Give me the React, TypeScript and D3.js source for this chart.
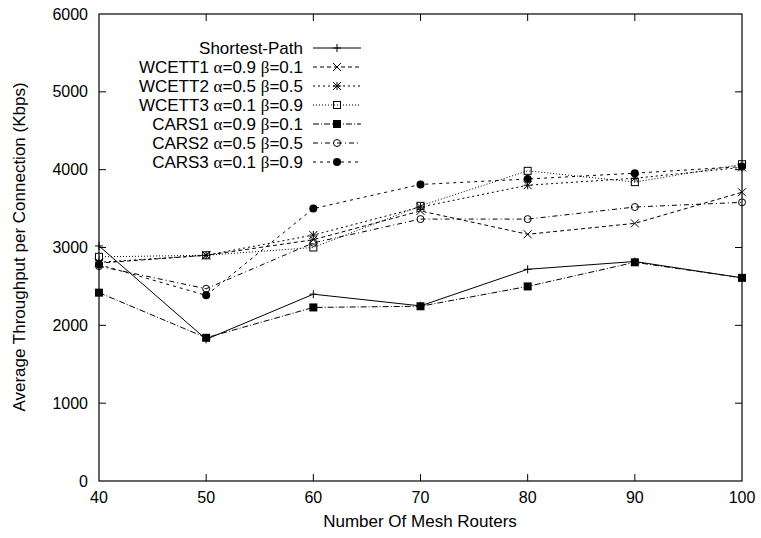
import React from "react";
import * as d3 from "d3";

const routers = [40, 50, 60, 70, 80, 90, 100];
const shortestPath = [3020, 1820, 2400, 2250, 2720, 2820, 2610];
const wcett1 = [2800, 2900, 3100, 3470, 3170, 3310, 3710];
const wcett2 = [2810, 2900, 3160, 3520, 3800, 3890, 4030];
const wcett3 = [2880, 2900, 3000, 3535, 3985, 3840, 4070];
const cars1 = [2420, 1840, 2230, 2245, 2500, 2810, 2610];
const cars2 = [2760, 2470, 3060, 3365, 3365, 3520, 3580];
const cars3 = [2780, 2385, 3500, 3810, 3880, 3955, 4040];
const seriesNames = [
  "Shortest-Path",
  "WCETT1 α=0.9 β=0.1",
  "WCETT2 α=0.5 β=0.5",
  "WCETT3 α=0.1 β=0.9",
  "CARS1 α=0.9 β=0.1",
  "CARS2 α=0.5 β=0.5",
  "CARS3 α=0.1 β=0.9",
];
const yTicks = [0, 1000, 2000, 3000, 4000, 5000, 6000];
const xTicks = [40, 50, 60, 70, 80, 90, 100];

const seriesValues = [shortestPath, wcett1, wcett2, wcett3, cars1, cars2, cars3];
const dashes = ["", "4,3", "2,3", "1,2", "6,2,1,2", "5,3,1,3", "3,4"];
const markers = ["plus", "cross", "star", "square", "fsquare", "circle", "fcircle"];

const W = 761, H = 538;
const L = 99, R = 742, T = 14, B = 481;
const FONT = "'Liberation Sans', Arial, Helvetica, sans-serif";
const GREEK = "'Liberation Serif', 'DejaVu Serif', serif";

function Marker({ kind, x, y }: { kind: string; x: number; y: number }) {
  const s = 4;
  switch (kind) {
    case "plus":
      return <path d={`M${x - s},${y}H${x + s}M${x},${y - s}V${y + s}`} stroke="#000" strokeWidth={1} />;
    case "cross":
      return <path d={`M${x - s},${y - s}L${x + s},${y + s}M${x - s},${y + s}L${x + s},${y - s}`} stroke="#000" strokeWidth={1} />;
    case "star":
      return (
        <path
          d={`M${x - s},${y}H${x + s}M${x},${y - s}V${y + s}M${x - s},${y - s}L${x + s},${y + s}M${x - s},${y + s}L${x + s},${y - s}`}
          stroke="#000"
          strokeWidth={1}
        />
      );
    case "square":
      return <rect x={x - 3.5} y={y - 3.5} width={7} height={7} fill="none" stroke="#000" strokeWidth={1} />;
    case "fsquare":
      return <rect x={x - 4} y={y - 4} width={8} height={8} fill="#000" />;
    case "circle":
      return <circle cx={x} cy={y} r={3.5} fill="none" stroke="#000" strokeWidth={1} />;
    case "fcircle":
      return <circle cx={x} cy={y} r={4} fill="#000" />;
  }
  return null;
}

function LegendLabel({ text }: { text: string }) {
  const parts = text.split(/([αβ])/);
  return (
    <>
      {parts.map((p, i) =>
        p === "α" || p === "β" ? (
          <tspan key={i} fontFamily={GREEK}>
            {p}
          </tspan>
        ) : (
          <tspan key={i}>{p}</tspan>
        )
      )}
    </>
  );
}

export default function App() {
  const x = d3.scaleLinear().domain([40, 100]).range([L, R]);
  const y = d3.scaleLinear().domain([0, 6000]).range([B, T]);
  const line = d3
    .line<number>()
    .x((_, i) => x(routers[i]))
    .y((d) => y(d));

  const legendTextX = 303;
  const legendX1 = 313;
  const legendX2 = 361;
  const legendY0 = 48;
  const legendDy = 19;

  return (
    <svg width={W} height={H} style={{ position: "absolute", left: 0, top: 0, background: "#fff" }} fontFamily={FONT}>
      <rect x={0} y={0} width={W} height={H} fill="#fff" />
      {yTicks.map((t) => (
        <g key={"y" + t}>
          {t > 0 && t < 6000 && (
            <>
              <line x1={L} x2={L + 7} y1={y(t)} y2={y(t)} stroke="#000" />
              <line x1={R} x2={R - 7} y1={y(t)} y2={y(t)} stroke="#000" />
            </>
          )}
          <text x={88} y={y(t)} dy="0.35em" textAnchor="end" fontSize={16}>
            {t}
          </text>
        </g>
      ))}
      {xTicks.map((t) => (
        <g key={"x" + t}>
          {t > 40 && t < 100 && (
            <>
              <line x1={x(t)} x2={x(t)} y1={B} y2={B - 7} stroke="#000" />
              <line x1={x(t)} x2={x(t)} y1={T} y2={T + 7} stroke="#000" />
            </>
          )}
          <text x={x(t)} y={503} textAnchor="middle" fontSize={16}>
            {t}
          </text>
        </g>
      ))}
      {seriesValues.map((vals, si) => (
        <g key={"s" + si}>
          <path d={line(vals) || ""} fill="none" stroke="#000" strokeWidth={1} strokeDasharray={dashes[si]} />
          {vals.map((v, i) => (
            <Marker key={i} kind={markers[si]} x={x(routers[i])} y={y(v)} />
          ))}
        </g>
      ))}
      {seriesNames.map((name, si) => {
        const ly = legendY0 + si * legendDy;
        return (
          <g key={"l" + si}>
            <text x={legendTextX} y={ly} dy="0.35em" textAnchor="end" fontSize={17}>
              <LegendLabel text={name} />
            </text>
            <line x1={legendX1} x2={legendX2} y1={ly} y2={ly} stroke="#000" strokeDasharray={dashes[si]} />
            <Marker kind={markers[si]} x={(legendX1 + legendX2) / 2} y={ly} />
          </g>
        );
      })}
      <rect x={L} y={T} width={R - L} height={B - T} fill="none" stroke="#000" strokeWidth={1.2} />
      <text x={420} y={527} textAnchor="middle" fontSize={17}>
        Number Of Mesh Routers
      </text>
      <text transform={`translate(25,247) rotate(-90)`} textAnchor="middle" fontSize={17}>
        Average Throughput per Connection (Kbps)
      </text>
    </svg>
  );
}
